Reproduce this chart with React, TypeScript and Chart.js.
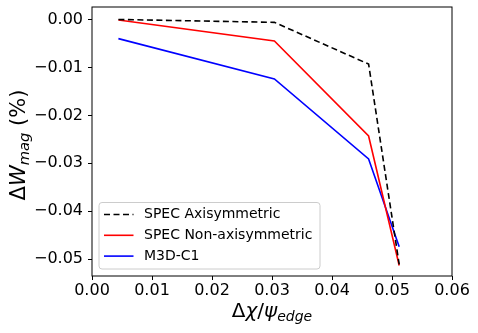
import React, { useEffect, useRef } from "react";
import { Chart, registerables } from "chart.js";

Chart.register(...registerables);

const xValues = [0.0044, 0.0304, 0.0461, 0.0512];
const specAxisymmetric = [0.0, -0.0006, -0.0093, -0.0511];
const specNonAxisymmetric = [-0.0001, -0.0045, -0.0243, -0.0513];
const m3dc1 = [-0.004, -0.0124, -0.0291, -0.0474];

const seriesLabels = ["SPEC Axisymmetric", "SPEC Non-axisymmetric", "M3D-C1"];
const xTicks = [0, 0.01, 0.02, 0.03, 0.04, 0.05, 0.06];
const yTicks = [0, -0.01, -0.02, -0.03, -0.04, -0.05];

const FONT = "'DejaVu Sans'";

type Seg = { t: string; it?: boolean; sub?: boolean };

function drawMath(ctx: CanvasRenderingContext2D, segs: Seg[], size: number, cx: number, baseline: number) {
  const subSize = size * 0.7;
  const fontOf = (s: Seg) => `${s.it ? "italic " : ""}${s.sub ? subSize : size}px ${FONT}`;
  let total = 0;
  const widths = segs.map((s) => {
    ctx.font = fontOf(s);
    const w = ctx.measureText(s.t).width;
    total += w;
    return w;
  });
  let x = cx - total / 2;
  ctx.textBaseline = "alphabetic";
  ctx.textAlign = "left";
  ctx.fillStyle = "#000";
  segs.forEach((s, i) => {
    ctx.font = fontOf(s);
    ctx.fillText(s.t, x, baseline + (s.sub ? size * 0.2 : 0));
    x += widths[i];
  });
}

const decorPlugin = {
  id: "decor",
  afterDraw(chart: any) {
    const ctx: CanvasRenderingContext2D = chart.ctx;
    const a = chart.chartArea;
    ctx.save();
    // frame
    ctx.strokeStyle = "#000";
    ctx.lineWidth = 1;
    ctx.strokeRect(a.left, a.top, a.right - a.left, a.bottom - a.top);

    // legend
    const fs = 14;
    const bx = a.left + 7;
    const bw = 221;
    const bh = 66.5;
    const by = a.bottom - 7 - bh;
    ctx.beginPath();
    const r = 3;
    ctx.moveTo(bx + r, by);
    ctx.lineTo(bx + bw - r, by);
    ctx.quadraticCurveTo(bx + bw, by, bx + bw, by + r);
    ctx.lineTo(bx + bw, by + bh - r);
    ctx.quadraticCurveTo(bx + bw, by + bh, bx + bw - r, by + bh);
    ctx.lineTo(bx + r, by + bh);
    ctx.quadraticCurveTo(bx, by + bh, bx, by + bh - r);
    ctx.lineTo(bx, by + r);
    ctx.quadraticCurveTo(bx, by, bx + r, by);
    ctx.closePath();
    ctx.fillStyle = "rgba(255,255,255,0.8)";
    ctx.fill();
    ctx.strokeStyle = "#cccccc";
    ctx.lineWidth = 1;
    ctx.stroke();
    chart.data.datasets.forEach((ds: any, i: number) => {
      const ry = by + 12 + i * 20.8;
      ctx.beginPath();
      ctx.strokeStyle = ds.borderColor;
      ctx.lineWidth = ds.borderWidth;
      ctx.setLineDash(ds.borderDash || []);
      ctx.moveTo(bx + 5, ry);
      ctx.lineTo(bx + 34.5, ry);
      ctx.stroke();
      ctx.setLineDash([]);
      ctx.fillStyle = "#000";
      ctx.font = `${fs}px ${FONT}`;
      ctx.textBaseline = "middle";
      ctx.textAlign = "left";
      ctx.fillText(ds.label, bx + 45, ry);
    });

    // axis titles
    drawMath(
      ctx,
      [{ t: "Δ" }, { t: "χ", it: true }, { t: "/" }, { t: "ψ", it: true }, { t: "edge", it: true, sub: true }],
      20,
      (a.left + a.right) / 2,
      316.7
    );
    ctx.save();
    ctx.translate(25, (a.top + a.bottom) / 2 + 3.5);
    ctx.rotate(-Math.PI / 2);
    drawMath(ctx, [{ t: "Δ" }, { t: "W", it: true }, { t: "mag", it: true, sub: true }, { t: " (%)" }], 21, 0, 0);
    ctx.restore();
    ctx.restore();
  },
};

const fmt = (v: number) => {
  const s = Math.abs(v) < 1e-12 ? "0.00" : v.toFixed(2);
  return s.replace("-", "\u2212");
};

export default function App() {
  const ref = useRef<HTMLCanvasElement>(null);
  useEffect(() => {
    if (!ref.current) return;
    const toPts = (ys: number[]) => ys.map((y, i) => ({ x: xValues[i], y }));
    const chart = new Chart(ref.current, {
      type: "line",
      data: {
        datasets: [
          {
            label: seriesLabels[0],
            data: toPts(specAxisymmetric),
            borderColor: "#000000",
            borderWidth: 1.6,
            borderDash: [6, 3.5],
            pointRadius: 0,
            fill: false,
          },
          {
            label: seriesLabels[1],
            data: toPts(specNonAxisymmetric),
            borderColor: "#ff0000",
            borderWidth: 1.6,
            pointRadius: 0,
            fill: false,
          },
          {
            label: seriesLabels[2],
            data: toPts(m3dc1),
            borderColor: "#0000ff",
            borderWidth: 1.6,
            pointRadius: 0,
            fill: false,
          },
        ],
      },
      options: {
        responsive: false,
        animation: false,
        layout: { padding: { left: 0, right: 26, top: 7, bottom: 0 } },
        plugins: { legend: { display: false }, tooltip: { enabled: false } },
        scales: {
          x: {
            type: "linear",
            min: 0,
            max: 0.06,
            border: { display: false },
            grid: { drawOnChartArea: false, drawTicks: true, tickLength: 4, color: "#000" },
            ticks: {
              color: "#000",
              font: { family: "DejaVu Sans", size: 16 },
              padding: 1,
              maxRotation: 0,
              callback: (v: any) => fmt(Number(v)),
            },
            afterBuildTicks: (s: any) => {
              s.ticks = xTicks.map((v) => ({ value: v }));
            },
            afterFit: (s: any) => {
              s.height = 57;
              s.paddingLeft = 0;
              s.paddingRight = 0;
            },
          },
          y: {
            type: "linear",
            min: -0.0535,
            max: 0.0026,
            border: { display: false },
            grid: { drawOnChartArea: false, drawTicks: true, tickLength: 4, color: "#000" },
            ticks: {
              color: "#000",
              font: { family: "DejaVu Sans", size: 16 },
              padding: 5,
              callback: (v: any) => fmt(Number(v)),
            },
            afterBuildTicks: (s: any) => {
              s.ticks = yTicks.map((v) => ({ value: v }));
            },
            afterFit: (s: any) => {
              s.width = 92;
              s.paddingTop = 0;
              s.paddingBottom = 0;
            },
          },
        },
      },
      plugins: [decorPlugin],
    });
    return () => chart.destroy();
  }, []);
  return (
    <div style={{ position: "fixed", left: 0, top: 0, width: 478, height: 333, background: "#fff" }}>
      <canvas ref={ref} width={478} height={333} style={{ display: "block" }} />
    </div>
  );
}
